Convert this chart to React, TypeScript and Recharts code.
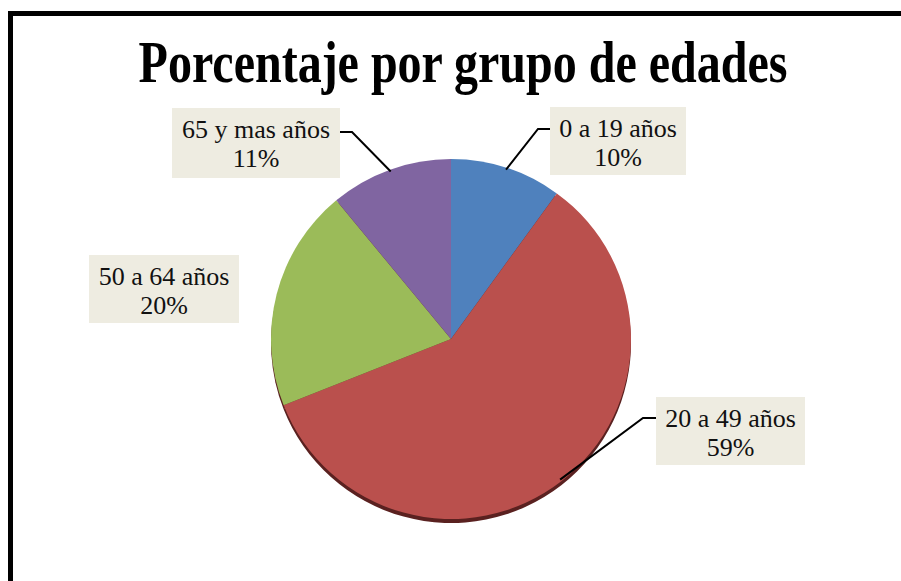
import React from "react";
import { PieChart, Pie, Cell } from "recharts";

const groups = ["0 a 19 años", "20 a 49 años", "50 a 64 años", "65 y mas años"];
const shares = [10, 59, 20, 11];
const colors = ["#4F81BD", "#BA504D", "#9BBB59", "#8065A1"];

const data = groups.map((name, i) => ({ name, value: shares[i] }));

// where each label box sits, and the elbow of its leader line
const labelBoxes = [
    { x: 550, y: 107, w: 136, h: 68, elbow: [538, 129], end: [550, 129] },
    { x: 656, y: 397, w: 149, h: 68, elbow: [643, 418], end: [656, 418] },
    { x: 89, y: 255, w: 150, h: 68, elbow: null, end: null },
    { x: 172, y: 108, w: 168, h: 70, elbow: [352, 132], end: [340, 132] },
];

const RAD = Math.PI / 180;

const renderLabel = (props: any) => {
    const { cx, cy, midAngle, outerRadius, index, name, value } = props;
    const box = labelBoxes[index];
    const sx = cx + (outerRadius - 2) * Math.cos(-midAngle * RAD);
    const sy = cy + (outerRadius - 2) * Math.sin(-midAngle * RAD);
    return (
        <g key={`lbl-${index}`}>
            {box.elbow && (
                <polyline
                    points={`${sx},${sy} ${box.elbow[0]},${box.elbow[1]} ${box.end![0]},${box.end![1]}`}
                    fill="none"
                    stroke="#000"
                    strokeWidth={2}
                />
            )}
            <rect x={box.x} y={box.y} width={box.w} height={box.h} fill="#EEECE1" />
            <text
                x={box.x + box.w / 2}
                y={box.y + 30}
                textAnchor="middle"
                fontFamily="'Liberation Serif', serif"
                fontSize={26}
                fill="#111"
            >
                {name}
            </text>
            <text
                x={box.x + box.w / 2}
                y={box.y + 59}
                textAnchor="middle"
                fontFamily="'Liberation Serif', serif"
                fontSize={26}
                fill="#111"
            >
                {`${value}%`}
            </text>
        </g>
    );
};

const App = () => {
    return (
        <div style={{ position: "fixed", left: 0, top: 0, width: 901, height: 581, background: "#fff", overflow: "hidden" }}>
            <div
                style={{
                    position: "absolute",
                    left: 8,
                    top: 11,
                    width: 920,
                    height: 620,
                    border: "5px solid #000",
                    boxSizing: "border-box",
                }}
            />
            <svg style={{ position: "absolute", left: 0, top: 0 }} width={901} height={110}>
                <text
                    transform="translate(463 82) scale(1 1.25)"
                    textAnchor="middle"
                    fontFamily="'Liberation Serif', serif"
                    fontWeight="bold"
                    fontSize={48}
                    fill="#000"
                >
                    Porcentaje por grupo de edades
                </text>
            </svg>
            <div style={{ position: "absolute", left: 0, top: 0 }}>
                <PieChart width={901} height={581} margin={{ top: 0, right: 0, bottom: 0, left: 0 }}>
                    <Pie
                        data={data}
                        dataKey="value"
                        cx={451}
                        cy={343}
                        outerRadius={180}
                        startAngle={90}
                        endAngle={-270}
                        stroke="none"
                        isAnimationActive={false}
                    >
                        {data.map((entry, index) => (
                            <Cell key={`sh-${index}`} fill="#5A2120" />
                        ))}
                    </Pie>
                    <Pie
                        data={data}
                        dataKey="value"
                        cx={451}
                        cy={339}
                        outerRadius={180}
                        startAngle={90}
                        endAngle={-270}
                        stroke="none"
                        label={renderLabel}
                        labelLine={false}
                        isAnimationActive={false}
                    >
                        {data.map((entry, index) => (
                            <Cell key={`cell-${index}`} fill={colors[index]} />
                        ))}
                    </Pie>
                </PieChart>
            </div>
        </div>
    );
};

export default App;
